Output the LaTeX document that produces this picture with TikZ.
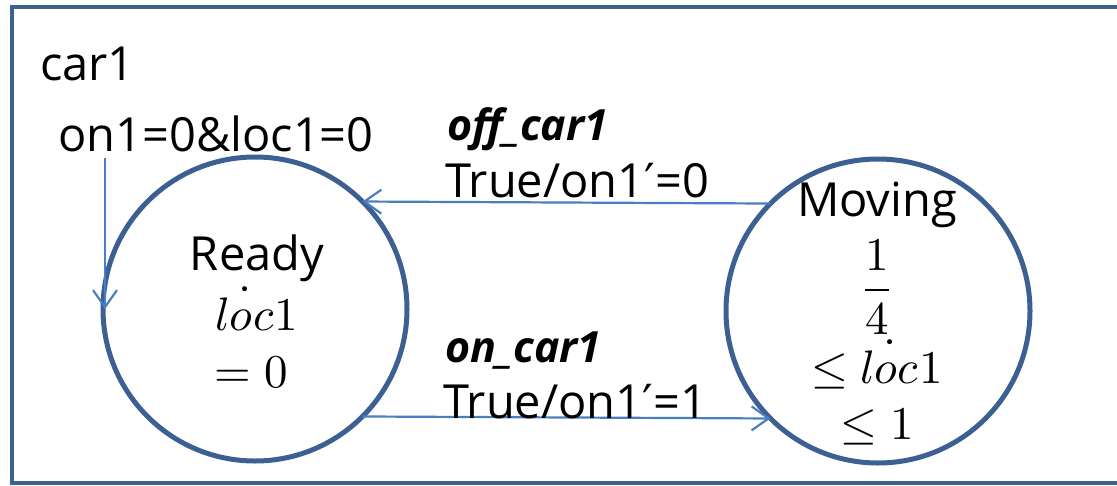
\documentclass[tikz,border=0pt]{standalone}
\usepackage{amsmath}
\usepackage{unicode-math}
\setmainfont{Open Sans}
\setmathfont{Latin Modern Math}
\newfontfamily\primefont{DejaVu Sans}
\usetikzlibrary{arrows.meta}
\definecolor{frameblue}{RGB}{60,96,146}
\definecolor{arrowblue}{RGB}{74,126,193}
\newcommand{\pr}{{\primefont ′}}
\tikzset{
  state/.style={circle,draw=frameblue,line width=5pt,minimum size=304pt,inner sep=0pt,outer sep=0pt},
  trans/.style={draw=arrowblue,line width=2.2pt,-{Straight Barb[length=17pt,width=24pt,line width=2.2pt]}},
  txt/.style={inner sep=0pt,anchor=base west,font=\fontsize{47}{56}\selectfont},
  btxt/.style={inner sep=0pt,anchor=base west,font=\fontsize{43}{52}\selectfont\bfseries\itshape},
  mtxt/.style={inner sep=0pt,anchor=base,font=\fontsize{47}{56}\selectfont},
}
\begin{document}
\begin{tikzpicture}[x=1pt,y=-1pt]
\useasboundingbox (0,0) rectangle (1117,485);
\draw[frameblue,line width=3.5pt] (1130,7) -- (12,7) -- (12,483) -- (1130,483);
\node[txt] (title) at (40,80) {car1};
\node[txt] (init) at (58,151) {on1=0\&loc1=0};
\node[state] (ready) at (255,309) {};
\node[state] (moving) at (878,311) {};
% Ready contents
\node[mtxt] (r1) at (257,270) {Ready};
\node[mtxt] (r2) at (257,330) {$\dot{loc}1$};
\node[mtxt] (r3) at (251,387) {$=0$};
% Moving contents
\node[mtxt] (m1) at (877,216) {Moving};
\node[mtxt] (m2) at (877,302) {$\dfrac{1}{4}$};
\node[mtxt] (m3) at (877,383) {$\le \dot{loc}1$};
\node[mtxt] (m4) at (877,439) {$\le 1$};
% transitions
\coordinate (istart) at (105,158);
\draw[trans] (istart) -- (istart |- ready.west);
\draw[trans] (moving.135) -- (ready.45);
\draw[trans] (ready.-45) -- (moving.225);
\node[btxt] (l1) at (447,140) {off\_car1};
\node[txt] (l2) at (445,197) {True/on1\pr=0};
\node[btxt] (l3) at (445,362) {on\_car1};
\node[txt] (l4) at (443,418) {True/on1\pr=1};
\end{tikzpicture}
\end{document}
